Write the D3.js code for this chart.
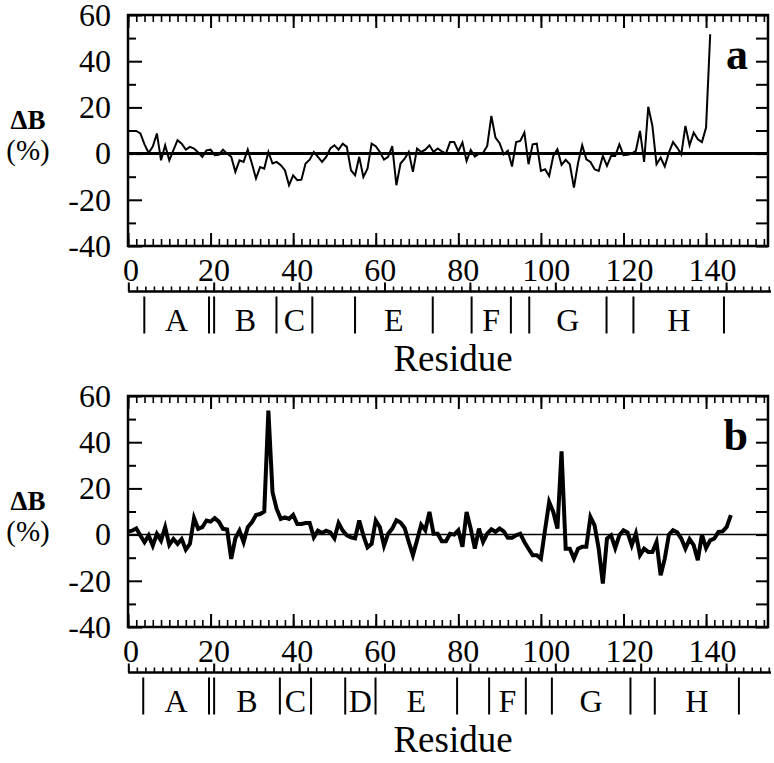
<!DOCTYPE html>
<html>
<head>
<meta charset="utf-8">
<script src="https://cdn.jsdelivr.net/npm/d3@7"></script>
<style>
  body { margin: 0; background: #fff; }
  svg { display: block; font-family: "Liberation Serif", "Times New Roman", serif; }
</style>
</head>
<body>
<svg width="774" height="763"></svg>
<script>
// delta B (%) per residue
const deltaA = [
  9.8, 9.8, 9.8, 8.7, 4, 0.3, 3, 8.7, -2.9, 3.6,
  -2.9, 1.5, 5.8, 4.3, 1.7, 2.9, 2.2, 0.5, -1.4, 1.4,
  1.7, -0.7, -0.5, 1.7, 0, -1.4, -7.9, -2.9, -3.6, 1.7,
  -4.3, -10.8, -5.8, -6.5, 0.7, -4.3, -3.6, -5, -7.2, -13.7,
  -9.4, -11.5, -11.3, -4.3, -2.6, 0.7, -1.4, -3.6, -1.4, 2.2,
  3.6, 1.7, 4.3, 2.9, -7.2, -9.4, -1.4, -10.1, -6.5, 4.3,
  3.2, 0.7, -2.6, -1.4, 3.2, -13.7, -4.3, -2.2, 0.7, -7.9,
  2.2, 0.7, 1.7, 3.6, 0.7, 2.2, 1, 0, 5, 5,
  1, 4.8, -3.2, 1.6, -1.3, 0, 0.3, 3.3, 16.3, 6.9,
  4.5, -0.3, 1.2, -5.6, 5, 5.5, 9.1, -4.6, 4, 4.3,
  -7.5, -6.8, -9.7, -1, 1.9, -4.9, -2.7, -4.6, -14.7, -4,
  3.6, -2.5, -3.6, -6.8, -7.5, -1, -5.3, -1, -1, 4,
  -0.7, -0.5, 0, 1.2, 9.8, -3.6, 20.3, 12, -4.6, -1.7,
  -5.6, 0.4, 5, 2.6, -0.3, 12, 3.6, 9.1, 6.2, 5,
  11.3, 51.7
];
const deltaB = [
  1.3, 1.7, 2.7, -0.4, -3.3, -0.4, -4.8, 0.3, -2.6, 3.2,
  -4.5, -1.9, -4, -1.9, -6.5, -4, 7.1, 2.5, 3.2, 6.1,
  5.6, 7.1, 5.6, 2.5, 2.2, -10.5, -1.6, 1.7, -3.3, 3.2,
  5.3, 8.5, 8.9, 10, 53.7, 18.3, 11.1, 6.8, 7.5, 6.8,
  8.5, 4.6, 4.6, 5, 5, -1.2, 1.7, 0.7, 1.7, 1,
  -1.6, 5, 1.7, -0.3, -1.2, -1.6, 6.1, -0.3, -5.5, -4,
  6.1, 3.2, -4.8, 0.4, 2.6, 6.2, 5.2, 2.9, -3.2, -8.9,
  -2.5, 4.3, 1.9, 9.8, 0.4, 0.4, -2.9, -2.9, 0.4, 0,
  1.9, -5.3, 9.8, 2.6, -6.1, 2.6, -3.2, 0.4, 2.3, 1.2,
  2.6, 1.4, -1.4, -1.4, -0.3, 0.4, -3.2, -6.1, -8.9, -8.9,
  -10.4, 2, 14.1, 9.8, 2.6, 36, -6.1, -6.1, -10.4, -6.1,
  -5.3, -5.3, 7.6, 4, -6.1, -21.2, -1.7, -0.3, -5.8, -0.3,
  1.9, 0.9, -4.6, 0.4, -8.9, -6.1, -7.5, -7.5, -3.2, -17.6,
  -10.4, 0, 1.9, 1, -1.7, -6.1, -2, -4.6, -11.1, 0,
  -5.8, -2.5, -1.7, 1.2, 1.4, 3.3, 8.4
];

// helix segments [start, end, name] on the residue ruler
const helicesA = [
  [3.75, 18.9, "A"], [20.1, 34.7, "B"], [34.7, 43.1, "C"], [53.1, 71.3, "E"],
  [80.4, 89.6, "F"], [93.9, 112, "G"], [118.3, 139.5, "H"]
];
const helicesB = [
  [3.5, 18.9, "A"], [20.1, 35.5, "B"], [35.5, 42.8, "C"], [50.8, 57.9, "D"],
  [57.9, 77, "E"], [84.5, 93.1, "F"], [99.2, 117.6, "G"], [123.3, 143, "H"]
];

const xTicks = [0, 20, 40, 60, 80, 100, 120, 140];
const yTicks = [-40, -20, 0, 20, 40, 60];
const yMinorTicks = [-30, -10, 10, 30, 50];
const panelNames = ["a", "b"];

const svg = d3.select("svg");
const frameH = 231;

const x = d3.scaleLinear().domain([0, 155]).range([128, 768]);
const xLab = d3.scaleLinear().domain([0, 140]).range([130.5, 712]);   // printed numbers
const xRule = d3.scaleLinear().domain([0, 150]).range([128.3, 768.8]); // residue ruler
const y = d3.scaleLinear().domain([-40, 60]).range([frameH, 0]);

function tickAxis(g, axis, w) {
  g.call(axis);
  g.select(".domain").remove();
  g.selectAll("line").attr("stroke-width", w);
}

function labelAxis(g, axis) {
  g.call(axis.tickFormat(d => String(d)));  // plain hyphen like the print
  g.attr("font-family", null).attr("font-size", null);
  g.select(".domain").remove();
  g.selectAll("text").attr("font-size", 32).attr("fill", "#000");
  return g;
}

function drawPanel(top, values, helices, name, lineW, zeroW) {
  const p = svg.append("g").attr("transform", `translate(0,${top})`);

  // frame ticks (inward)
  const every2 = d3.range(0, 156, 2);
  tickAxis(p.append("g"), d3.axisBottom(x).tickValues(every2).tickSize(7).tickFormat(""), 1.6);
  tickAxis(p.append("g"), d3.axisBottom(x).tickValues(xTicks).tickSize(13).tickFormat(""), 2);
  tickAxis(p.append("g").attr("transform", `translate(0,${frameH})`),
    d3.axisTop(x).tickValues(every2).tickSize(7).tickFormat(""), 1.6);
  tickAxis(p.append("g").attr("transform", `translate(0,${frameH})`),
    d3.axisTop(x).tickValues(xTicks).tickSize(13).tickFormat(""), 2);
  tickAxis(p.append("g").attr("transform", `translate(${x(0)},0)`),
    d3.axisRight(y).tickValues(yMinorTicks).tickSize(8).tickFormat(""), 2);
  tickAxis(p.append("g").attr("transform", `translate(${x(0)},0)`),
    d3.axisRight(y).tickValues(yTicks).tickSize(14).tickFormat(""), 2);
  tickAxis(p.append("g").attr("transform", `translate(${x.range()[1]},0)`),
    d3.axisLeft(y).tickValues(yTicks.concat(yMinorTicks)).tickSize(12).tickFormat(""), 2);

  // y labels
  labelAxis(p.append("g").attr("transform", `translate(${x(0)},0)`),
    d3.axisLeft(y).tickValues(yTicks).tickSize(0).tickPadding(17));

  // x labels
  labelAxis(p.append("g").attr("transform", `translate(0,${frameH})`),
    d3.axisBottom(xLab).tickValues(xTicks).tickSize(0).tickPadding(0))
    .selectAll("text").attr("dy", null).attr("y", 35);

  // frame
  p.append("rect")
    .attr("x", x(0)).attr("y", 0)
    .attr("width", x.range()[1] - x(0)).attr("height", frameH)
    .attr("fill", "none").attr("stroke", "#000").attr("stroke-width", 2.5);

  // zero line
  p.append("line")
    .attr("x1", x(0)).attr("x2", x.range()[1])
    .attr("y1", y(0)).attr("y2", y(0))
    .attr("stroke", "#000").attr("stroke-width", zeroW);

  // data
  p.append("path")
    .datum(values)
    .attr("fill", "none").attr("stroke", "#000")
    .attr("stroke-width", lineW).attr("stroke-linejoin", "miter")
    .attr("d", d3.line().x((d, i) => x(i)).y(d => y(d)));

  // panel tag
  p.append("text").attr("x", 748).attr("y", 54)
    .attr("text-anchor", "end").attr("font-size", 44).attr("font-weight", "bold")
    .text(name);

  // axis title
  p.append("text").attr("x", 28).attr("y", 114).attr("text-anchor", "middle")
    .attr("font-size", 27).attr("font-weight", "bold").text("ΔB");
  p.append("text").attr("x", 28).attr("y", 145).attr("text-anchor", "middle")
    .attr("font-size", 29).text("(%)");

  // residue ruler
  const rY = frameH + 45.5;
  const r = p.append("g").attr("transform", `translate(0,${rY})`);
  tickAxis(r.append("g"), d3.axisTop(xRule).tickValues(d3.range(0, 151, 2)).tickSize(5).tickFormat(""), 1.6);
  tickAxis(r.append("g"), d3.axisTop(xRule).tickValues(xTicks).tickSize(9).tickFormat(""), 2);
  r.append("line").attr("x1", xRule(0)).attr("x2", 771).attr("y1", 0).attr("y2", 0)
    .attr("stroke", "#000").attr("stroke-width", 2.5);

  const bounds = Array.from(new Set(helices.flatMap(h => [h[0], h[1]])));
  r.selectAll("line.hb").data(bounds).join("line").attr("class", "hb")
    .attr("x1", d => xRule(d)).attr("x2", d => xRule(d))
    .attr("y1", 5).attr("y2", 42)
    .attr("stroke", "#000").attr("stroke-width", 2);
  r.selectAll("text.hl").data(helices).join("text").attr("class", "hl")
    .attr("x", d => xRule((d[0] + d[1]) / 2)).attr("y", 39)
    .attr("text-anchor", "middle").attr("font-size", 32).text(d => d[2]);

  p.append("text").attr("x", 453).attr("y", frameH + 125)
    .attr("text-anchor", "middle").attr("font-size", 37).text("Residue");
}

drawPanel(15, deltaA, helicesA, panelNames[0], 2, 3);
drawPanel(396, deltaB, helicesB, panelNames[1], 4, 1.5);
</script>
</body>
</html>
